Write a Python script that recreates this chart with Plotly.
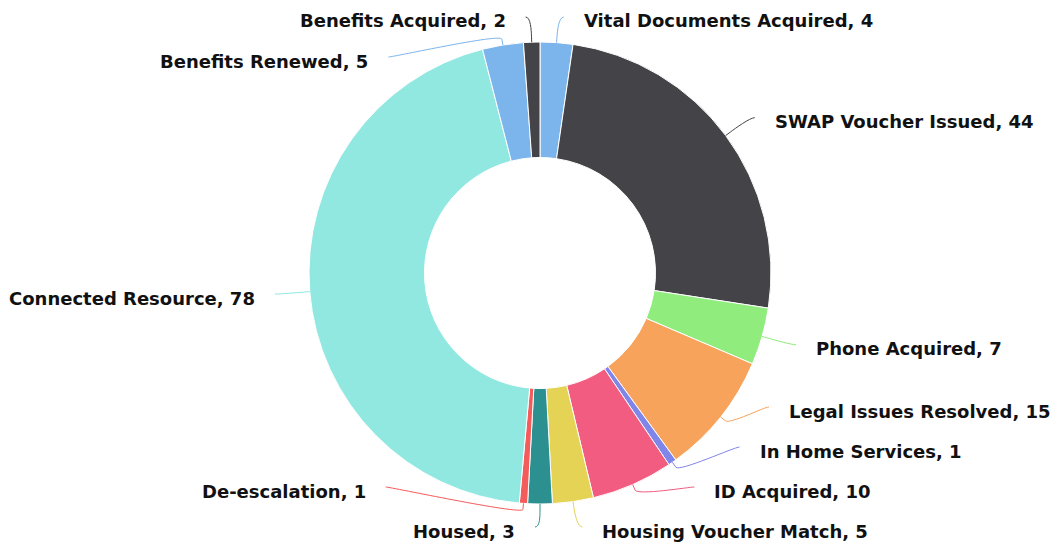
import math
import plotly.graph_objects as go

labels = ["Vital Documents Acquired", "SWAP Voucher Issued", "Phone Acquired",
          "Legal Issues Resolved", "In Home Services", "ID Acquired",
          "Housing Voucher Match", "Housed", "De-escalation", "Connected Resource",
          "Benefits Renewed", "Benefits Acquired"]
values = [4, 44, 7, 15, 1, 10, 5, 3, 1, 78, 5, 2]
colors = ["#7cb5ec", "#434348", "#90ed7d", "#f7a35c", "#8085e9", "#f15c80",
          "#e4d354", "#2b908f", "#f45b5b", "#91e8e1", "#7cb5ec", "#434348"]

W, H = 1050, 546
CX, CY, R = 540, 273, 231
HOLE = 0.5
DIST = 30          # label distance from the outer edge
BREAK = 6          # connector break offset
TOP, BOT, GAP = 17, 527, 40
PAD, TXT_GAP = 5, 18
FONT = dict(family="DejaVu Sans, Arial, sans-serif", size=18, color="#111111")


def px(x):
    return x / W


def py(y):
    return 1 - y / H


fig = go.Figure(go.Pie(
    labels=labels, values=values, sort=False, direction="clockwise", rotation=0,
    hole=HOLE, textinfo="none", showlegend=False,
    marker=dict(colors=colors, line=dict(color="#ffffff", width=1)),
    domain=dict(x=[px(CX - R), px(CX + R)], y=[py(CY + R), py(CY - R)]),
    hovertemplate="%{label}: %{value}<extra></extra>",
))

# label layout derived from the slice angles
total = sum(values)
RL = R + DIST
items = []
cum = 0
for i, v in enumerate(values):
    th = (cum + v / 2) / total * 2 * math.pi
    cum += v
    items.append(dict(i=i, th=th, left=th >= math.pi - 1e-9,
                      ny=CY - RL * math.cos(th), nx=CX + RL * math.sin(th)))

for side in (True, False):
    grp = sorted([it for it in items if it["left"] == side], key=lambda d: d["ny"])
    ys = [min(max(it["ny"], TOP), BOT) for it in grp]
    for k in range(1, len(ys)):
        ys[k] = max(ys[k], ys[k - 1] + GAP)
    ys[-1] = min(ys[-1], BOT)
    for k in range(len(ys) - 2, -1, -1):
        ys[k] = min(ys[k], ys[k + 1] - GAP)
    for it, y in zip(grp, ys):
        it["y"] = y

shapes, annotations = [], []
for it in items:
    i, th, left, y = it["i"], it["th"], it["left"], it["y"]
    sgn = -1 if left else 1
    if abs(y - TOP) < 1e-6 or abs(y - BOT) < 1e-6:
        x = it["nx"]
    else:
        x = CX + sgn * math.sqrt(max(RL ** 2 - (y - CY) ** 2, 0))
    lx, ly = x + sgn * PAD, y
    tx, ty = CX + R * math.sin(th), CY - R * math.cos(th)
    bx, by = CX + (R + BREAK) * math.sin(th), CY - (R + BREAK) * math.cos(th)
    c1x = lx - sgn * 5
    c2x, c2y = 2 * bx - tx, 2 * by - ty
    path = (f"M {px(lx)},{py(ly)} C {px(c1x)},{py(ly)} {px(c2x)},{py(c2y)} "
            f"{px(bx)},{py(by)} L {px(tx)},{py(ty)}")
    shapes.append(dict(type="path", path=path, xref="paper", yref="paper",
                       line=dict(color=colors[i], width=1)))
    annotations.append(dict(
        x=px(lx + sgn * TXT_GAP), y=py(ly + 4), xref="paper", yref="paper",
        text=f"<b>{labels[i]}, {values[i]}</b>", showarrow=False,
        xanchor="right" if left else "left", yanchor="middle", font=FONT,
    ))

fig.update_layout(
    width=W, height=H, margin=dict(l=0, r=0, t=0, b=0),
    paper_bgcolor="#ffffff", plot_bgcolor="#ffffff",
    shapes=shapes, annotations=annotations, showlegend=False,
)

fig.write_html("out.html")
